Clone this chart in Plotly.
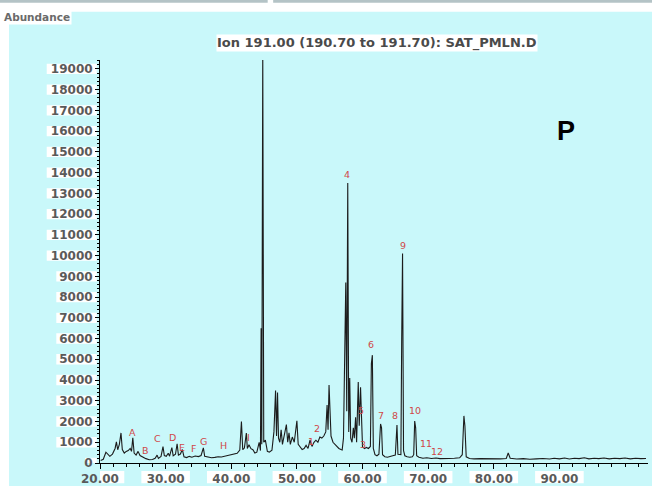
import plotly.graph_objects as go

# ---------------- data ----------------
retention_time = [
    20.1, 20.5, 20.9, 21.2, 21.5, 21.9, 22.3, 22.5, 22.7, 22.95, 23.2, 23.4, 23.7, 24.0, 24.3,
    24.6, 24.8, 25.0, 25.2, 25.5, 25.8, 26.1, 26.5, 27.0, 27.5, 28.0, 28.4, 28.7, 28.9, 29.3,
    29.6, 29.8, 30.1, 30.4, 30.6, 30.95, 31.15, 31.5, 31.75, 31.95, 32.25, 32.55, 32.8, 33.2,
    33.6, 34.0, 34.5, 35.0, 35.4, 35.75, 35.95, 36.5, 37.0, 37.5, 38.0, 38.5, 39.0, 39.5, 40.0,
    40.5, 40.9, 41.3, 41.55, 41.75, 42.0, 42.3, 42.45, 42.7, 43.0, 43.3, 43.6, 43.9, 44.25,
    44.45, 44.55, 44.65, 44.8, 44.95, 45.2, 45.5, 45.8, 46.2, 46.5, 46.75, 46.9, 47.05, 47.2,
    47.4, 47.6, 47.8, 48.1, 48.4, 48.6, 48.8, 49.0, 49.3, 49.6, 49.8, 50.0, 50.2, 50.5, 50.8,
    51.1, 51.4, 51.7, 52.0, 52.3, 52.6, 52.9, 53.2, 53.5, 53.8, 54.1, 54.4, 54.6, 54.75, 54.9,
    55.05, 55.2, 55.5, 55.8, 56.1, 56.4, 56.7, 56.9, 57.1, 57.45, 57.6, 57.75, 57.9, 58.05,
    58.2, 58.4, 58.6, 58.75, 58.95, 59.1, 59.35, 59.5, 59.7, 59.85, 60.0, 60.3, 60.6, 60.9,
    61.2, 61.35, 61.5, 61.65, 61.9, 62.2, 62.5, 62.75, 62.9, 63.05, 63.4, 63.8, 64.2, 64.6,
    65.0, 65.25, 65.4, 65.7, 65.85, 65.97, 66.1, 66.25, 66.45, 66.8, 67.2, 67.6, 67.8, 67.95,
    68.1, 68.25, 68.6, 69.2, 69.8, 70.5, 71.2, 71.8, 72.5, 73.2, 74.0, 74.8, 75.2, 75.45, 75.6,
    75.8, 76.3, 77.0, 78.0, 79.0, 80.0, 81.0, 81.9, 82.2, 82.5, 83.0, 83.5, 84.5, 85.5, 86.5,
    87.5, 88.5, 89.2, 90.0, 90.8, 91.5, 92.3, 93.0, 93.8, 94.5, 95.3, 96.0, 96.8, 97.6, 98.4,
    99.2, 100.0, 100.8, 101.6, 102.4, 103.2,
]
abundance = [
    120, 180, 520, 400, 320, 430, 700, 1020, 640, 900, 1450, 650, 480, 560, 600,
    700, 560, 1220, 480, 380, 560, 360, 280, 210, 160, 170, 230, 380, 220, 320,
    790, 360, 320, 470, 330, 740, 350, 420, 930, 380, 430, 650, 300, 260,
    320, 280, 340, 310, 360, 730, 320, 280, 250, 270, 300, 290, 330, 360, 390,
    420, 470, 620, 2000, 640, 720, 1440, 700, 880, 690, 640, 480, 520, 1000,
    600, 6500, 900, 19800, 1000, 1100, 560, 520, 620, 1500, 3500, 1300, 3400, 1200,
    1000, 1600, 900, 1300, 1850, 1000, 1450, 900, 1250, 1000, 1500, 2030, 900, 750, 650,
    700, 850, 700, 1100, 800, 1000, 1100, 1000, 1250, 1200, 1300, 1500, 2800, 1600, 3760,
    2000, 1300, 1000, 900, 750, 700, 650, 630, 1200, 8700, 2500, 13500, 1500, 4100,
    1200, 1000, 1700, 1200, 2200, 1000, 3900, 1800, 3650, 2200, 780, 700, 750, 700,
    800, 4800, 5200, 700, 400, 350, 420, 1880, 1700, 400, 300, 280, 300, 350,
    380, 1830, 420, 400, 400, 6000, 10100, 600, 350, 300, 280, 300, 400, 2020,
    1700, 350, 280, 230, 250, 220, 240, 210, 230, 220, 230, 250, 400, 2270, 1800,
    300, 220, 200, 210, 200, 210, 200, 220, 480, 230, 200, 190, 210, 180, 200,
    220, 190, 230, 200, 240, 190, 230, 210, 250, 200, 230, 210, 240, 200, 230,
    210, 240, 200, 230, 210, 220,
]

peak_labels = ["A", "B", "C", "D", "E", "F", "G", "H", "I", "1", "2", "3", "4", "5",
               "6", "7", "8", "9", "10", "11", "12"]
peak_label_rt = [25.0, 26.9, 28.8, 31.0, 32.5, 34.2, 35.7, 38.75, 42.6, 52.2, 53.1, 60.1,
                 57.7, 59.8, 61.3, 62.8, 65.0, 66.2, 68.0, 69.7, 71.4]
peak_label_abund = [1450, 580, 1200, 1250, 770, 720, 1060, 820, 1250, 1060, 1640, 870,
                    13900, 2550, 5690, 2270, 2310, 10500, 2550, 960, 560]

x_tick_vals = [20, 30, 40, 50, 60, 70, 80, 90]
x_tick_text = ["20.00", "30.00", "40.00", "50.00", "60.00", "70.00", "80.00", "90.00"]
y_tick_vals = list(range(0, 20000, 1000))
y_tick_text = [str(v) for v in y_tick_vals]

title_text = "Ion 191.00 (190.70 to 191.70): SAT_PMLN.D"
y_title_text = "Abundance"
panel_text = "P"

# ---------------- styling ----------------
CYAN = "#c9f8fa"
LABEL_GRAY = "#5a5a5a"
RED = "#d04848"
X_RANGE = [20, 103.5]
Y_RANGE = [0, 19430]
lab_font = dict(family="DejaVu Sans", size=12, color=LABEL_GRAY, weight="bold")

fig = go.Figure()
fig.add_trace(go.Scatter(
    x=retention_time, y=abundance, mode="lines",
    line=dict(color="#1c1c1c", width=1.1),
    hoverinfo="skip", showlegend=False,
))

shapes = [
    # cyan panel background
    dict(type="rect", xref="paper", yref="paper", x0=-0.166, x1=1.01, y0=-0.057, y1=1.12,
         fillcolor=CYAN, line=dict(width=0), layer="below"),
    # thin grey bars at the very top
    dict(type="rect", xref="paper", yref="paper", x0=-0.19, x1=0.306, y0=1.142, y1=1.15,
         fillcolor="#b4c3c6", line=dict(width=0), layer="below"),
    dict(type="rect", xref="paper", yref="paper", x0=0.316, x1=1.01, y0=1.142, y1=1.15,
         fillcolor="#b4c3c6", line=dict(width=0), layer="below"),
]
# white boxes behind the y tick labels
for v, t in zip(y_tick_vals, y_tick_text):
    w = (len(t) * 9.6 + 2) / 548
    shapes.append(dict(type="rect", xref="paper", yref="y", x0=-0.006 - w, x1=-0.006,
                       y0=v - 250, y1=v + 250, fillcolor="white", line=dict(width=0),
                       layer="below"))
# white boxes behind the x tick labels
for v in x_tick_vals:
    shapes.append(dict(type="rect", xref="x", yref="paper", x0=v - 3.7, x1=v + 3.7,
                       y0=-0.05, y1=-0.02, fillcolor="white", line=dict(width=0),
                       layer="below"))

annotations = []
for txt, xv, yv in zip(peak_labels, peak_label_rt, peak_label_abund):
    annotations.append(dict(x=xv, y=yv, xref="x", yref="y", text=txt, showarrow=False,
                            font=dict(family="DejaVu Sans", size=9.5, color=RED)))
annotations.append(dict(x=0.5, y=1.02, xref="paper", yref="paper", text=title_text,
                        showarrow=False, xanchor="center", yanchor="bottom",
                        font=dict(family="DejaVu Sans", size=13, color="#4a4a4a",
                                  weight="bold"),
                        bgcolor="white", borderpad=0, xshift=3))
annotations.append(dict(x=-0.178, y=1.107, xref="paper", yref="paper", text=y_title_text,
                        showarrow=False, xanchor="left", yanchor="middle",
                        font=dict(family="DejaVu Sans", size=10.5, color="#6a6a6a",
                                  weight="bold"),
                        bgcolor="white", borderpad=1))
annotations.append(dict(x=0.85, y=0.824, xref="paper", yref="paper", text=panel_text,
                        showarrow=False, xanchor="center", yanchor="middle",
                        font=dict(family="Liberation Sans", size=27, color="black",
                                  weight="bold")))

fig.update_layout(
    width=652, height=490,
    margin=dict(l=100, r=4, t=60, b=27),
    paper_bgcolor="white", plot_bgcolor="rgba(0,0,0,0)",
    shapes=shapes, annotations=annotations,
    xaxis=dict(range=X_RANGE, tickvals=x_tick_vals, ticktext=x_tick_text,
               showgrid=False, zeroline=False, showline=True, linecolor="black",
               linewidth=1, ticks="outside", ticklen=5, tickcolor="black",
               tickfont=lab_font,
               minor=dict(dtick=2, tick0=20, ticks="outside", ticklen=3,
                          tickcolor="black", showgrid=False)),
    yaxis=dict(range=Y_RANGE, tickvals=y_tick_vals, ticktext=y_tick_text,
               showgrid=False, zeroline=False, showline=True, linecolor="black",
               linewidth=1, ticks="outside", ticklen=4, tickcolor="black",
               tickfont=lab_font,
               minor=dict(dtick=200, tick0=0, ticks="outside", ticklen=2,
                          tickcolor="black", showgrid=False)),
)

fig.write_html("out.html")
